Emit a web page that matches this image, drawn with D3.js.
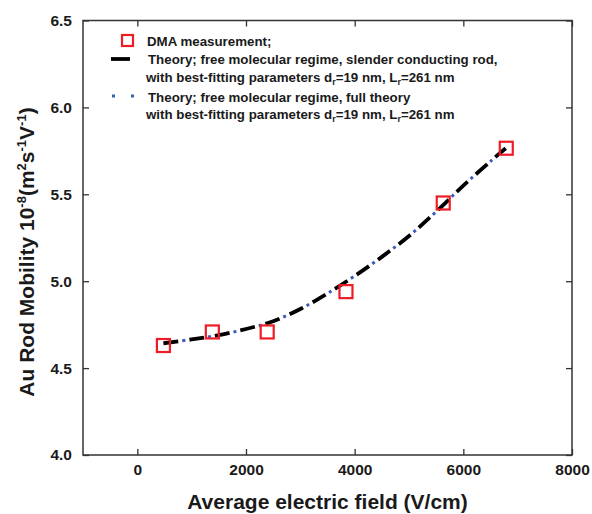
<!DOCTYPE html>
<html>
<head>
<meta charset="utf-8">
<script src="https://cdn.jsdelivr.net/npm/d3@7"></script>
<style>
  body { margin: 0; background: #fff; }
  text { font-family: "Liberation Sans", Arial, sans-serif; font-weight: bold; fill: #1a1a1a; }
</style>
</head>
<body>
<div id="chart"></div>
<script>
// measured points (DMA)
var fieldDMA = [480, 1380, 2390, 3840, 5630, 6790];
var mobilityDMA = [4.63, 4.708, 4.708, 4.94, 5.45, 5.765];

// theory curve
var fieldTheory = [480, 1000, 1500, 2000, 2500, 3000, 3500, 4000, 4500, 5000, 5500, 6000, 6500, 6780];
var mobilityTheory = [4.643, 4.665, 4.69, 4.725, 4.77, 4.84, 4.93, 5.03, 5.14, 5.26, 5.40, 5.55, 5.69, 5.765];

var xTicks = [0, 2000, 4000, 6000, 8000];
var yTicks = [4.0, 4.5, 5.0, 5.5, 6.0, 6.5];

var width = 592, height = 514;
var margin = { top: 20.5, left: 83, right: 20, bottom: 59 };

var svg = d3.select('#chart').append('svg')
    .attr('width', width)
    .attr('height', height);

var x = d3.scaleLinear().domain([-1000, 8000]).range([margin.left, width - margin.right]);
var y = d3.scaleLinear().domain([4.0, 6.5]).range([height - margin.bottom, margin.top]);

//-----frame & ticks-------
var axisColor = '#333';
var tl = 6;

svg.append('g').attr('transform', 'translate(0,' + y(4.0) + ')')
    .call(d3.axisBottom(x).tickValues(xTicks).tickSizeInner(-tl).tickSizeOuter(0).tickPadding(9).tickFormat(d3.format('d')))
    .call(function(g){ g.select('.domain').remove(); });

svg.append('g').attr('transform', 'translate(0,' + y(6.5) + ')')
    .call(d3.axisTop(x).tickValues(xTicks).tickSizeInner(-tl).tickSizeOuter(0).tickFormat(''))
    .call(function(g){ g.select('.domain').remove(); });

svg.append('g').attr('transform', 'translate(' + x(-1000) + ',0)')
    .call(d3.axisLeft(y).tickValues(yTicks).tickSizeInner(-tl).tickSizeOuter(0).tickPadding(11).tickFormat(d3.format('.1f')))
    .call(function(g){ g.select('.domain').remove(); });

svg.append('g').attr('transform', 'translate(' + x(8000) + ',0)')
    .call(d3.axisRight(y).tickValues(yTicks).tickSizeInner(-tl).tickSizeOuter(0).tickFormat(''))
    .call(function(g){ g.select('.domain').remove(); });

svg.selectAll('.tick line').attr('stroke', axisColor).attr('stroke-width', 1.3);
svg.selectAll('.tick text').style('font-size', '15.5px').style('font-family', '"Liberation Sans", Arial, sans-serif').style('font-weight', 'bold').attr('fill', '#1a1a1a');

svg.append('rect')
    .attr('x', x(-1000)).attr('y', y(6.5))
    .attr('width', x(8000) - x(-1000)).attr('height', y(4.0) - y(6.5))
    .attr('fill', 'none').attr('stroke', axisColor).attr('stroke-width', 1.5);

//-----axis titles-------
svg.append('text')
    .attr('x', (x(-1000) + x(8000)) / 2).attr('y', 509)
    .attr('text-anchor', 'middle').style('font-size', '21px')
    .text('Average electric field (V/cm)');

var yl = svg.append('text')
    .attr('transform', 'translate(34,252) rotate(-90)')
    .attr('text-anchor', 'middle').style('font-size', '21px');
yl.append('tspan').text('Au Rod Mobility 10');
yl.append('tspan').attr('dy', -8).style('font-size', '13px').text('-8');
yl.append('tspan').attr('dy', 8).text('(m');
yl.append('tspan').attr('dy', -8).style('font-size', '13px').text('2');
yl.append('tspan').attr('dy', 8).text('s');
yl.append('tspan').attr('dy', -8).style('font-size', '13px').text('-1');
yl.append('tspan').attr('dy', 8).text('V');
yl.append('tspan').attr('dy', -8).style('font-size', '13px').text('-1');
yl.append('tspan').attr('dy', 8).text(')');

//-----theory curves-------
var theory = fieldTheory.map(function(d, i){ return [d, mobilityTheory[i]]; });
var line = d3.line().curve(d3.curveCatmullRom)
    .x(function(d){ return x(d[0]); })
    .y(function(d){ return y(d[1]); });

svg.append('path').datum(theory)
    .attr('d', line).attr('fill', 'none')
    .attr('stroke', '#3b5cb8').attr('stroke-width', 3)
    .attr('stroke-dasharray', '3,23').attr('stroke-dashoffset', -19);

svg.append('path').datum(theory)
    .attr('d', line).attr('fill', 'none')
    .attr('stroke', '#000').attr('stroke-width', 3.8)
    .attr('stroke-dasharray', '15,11');

//-----DMA squares-------
var sq = 13;
svg.selectAll('rect.dma')
    .data(fieldDMA)
    .enter().append('rect')
        .attr('class', 'dma')
        .attr('x', function(d){ return x(d) - sq / 2; })
        .attr('y', function(d, i){ return y(mobilityDMA[i]) - sq / 2; })
        .attr('width', sq).attr('height', sq)
        .attr('fill', 'none').attr('stroke', '#ee1c25').attr('stroke-width', 2.2);

//-----legend-------
var lg = svg.append('g');
lg.append('rect').attr('x', 122).attr('y', 35).attr('width', 11).attr('height', 11)
    .attr('fill', 'none').attr('stroke', '#ee1c25').attr('stroke-width', 2.2);
lg.append('line').attr('x1', 111).attr('x2', 130).attr('y1', 59).attr('y2', 59)
    .attr('stroke', '#000').attr('stroke-width', 3.8);
lg.append('line').attr('x1', 112).attr('x2', 136).attr('y1', 96).attr('y2', 96)
    .attr('stroke', '#3b5cb8').attr('stroke-width', 3).attr('stroke-dasharray', '3,16');

var fs = '13.3px';
function subLine(t, yy, xx) {
    t.attr('x', xx).attr('y', yy).style('font-size', fs);
    t.append('tspan').text('with best-fitting parameters d');
    t.append('tspan').attr('dy', 3).style('font-size', '9px').text('r');
    t.append('tspan').attr('dy', -3).text('=19 nm, L');
    t.append('tspan').attr('dy', 3).style('font-size', '9px').text('r');
    t.append('tspan').attr('dy', -3).text('=261 nm');
}
lg.append('text').attr('x', 147).attr('y', 46).style('font-size', fs).text('DMA measurement;');
lg.append('text').attr('x', 148).attr('y', 64).style('font-size', fs).text('Theory; free molecular regime, slender conducting rod,');
subLine(lg.append('text'), 82, 146);
lg.append('text').attr('x', 148).attr('y', 102).style('font-size', fs).text('Theory; free molecular regime, full theory');
subLine(lg.append('text'), 119, 146);
</script>
</body>
</html>
